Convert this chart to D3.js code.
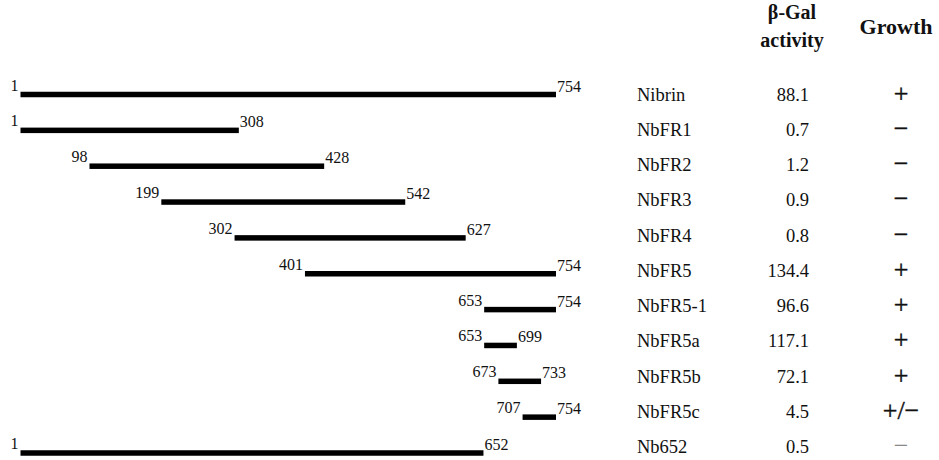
<!DOCTYPE html>
<html>
<head>
<meta charset="utf-8">
<script src="https://cdn.jsdelivr.net/npm/d3@7/dist/d3.min.js"></script>
<style>
  body { margin: 0; background: #fff; }
  svg text { font-family: "Liberation Serif", "Times New Roman", serif; fill: #111; }
</style>
</head>
<body>
<svg width="939" height="460"></svg>
<script>
// constructs, residue spans, reporter results
let names = ["Nibrin", "NbFR1", "NbFR2", "NbFR3", "NbFR4", "NbFR5", "NbFR5-1", "NbFR5a", "NbFR5b", "NbFR5c", "Nb652"];
let starts = [1, 1, 98, 199, 302, 401, 653, 653, 673, 707, 1];
let ends = [754, 308, 428, 542, 627, 754, 754, 699, 733, 754, 652];
let activity = [88.1, 0.7, 1.2, 0.9, 0.8, 134.4, 96.6, 117.1, 72.1, 4.5, 0.5];
let growth = ["+", "\u2212", "\u2212", "\u2212", "\u2212", "+", "+", "+", "+", "+/\u2212", "\u2212"];

let rows = names.map((n, i) => ({ name: n, start: starts[i], end: ends[i], act: activity[i], growth: growth[i] }));

let svg = d3.select("svg");

let x = d3.scaleLinear().domain([1, 754]).range([20.5, 556]);
let y = d3.scalePoint().domain(names).range([94.5, 453]);
// the table rows sit on a slightly tighter pitch than the bars
let ty = d3.scalePoint().domain(names).range([100.5, 453]);

let barH = 5.5;

// bars
svg.append('g')
  .attr('class', 'bars')
  .selectAll('rect')
  .data(rows)
  .enter().append('rect')
  .attr('x', d => x(d.start))
  .attr('y', d => y(d.name) - barH / 2)
  .attr('width', d => x(d.end) - x(d.start))
  .attr('height', barH)
  .attr('fill', '#000');

// residue numbers at the ends of each bar
let ends_g = svg.append('g').attr('class', 'residues').style('font-size', '16px');
ends_g.selectAll('text.s')
  .data(rows)
  .enter().append('text')
  .attr('class', 's')
  .attr('x', d => x(d.start) - 2)
  .attr('y', d => y(d.name) - 4)
  .attr('text-anchor', 'end')
  .text(d => d.start);
ends_g.selectAll('text.e')
  .data(rows)
  .enter().append('text')
  .attr('class', 'e')
  .attr('x', d => x(d.end) + 1)
  .attr('y', d => y(d.name) - 3)
  .text(d => d.end);

// table on the right
let tbl = svg.append('g').attr('class', 'table').style('font-size', '18.5px');
tbl.selectAll('text.name')
  .data(rows)
  .enter().append('text')
  .attr('class', 'name')
  .attr('x', 637)
  .attr('y', d => ty(d.name))
  .text(d => d.name);
tbl.selectAll('text.act')
  .data(rows)
  .enter().append('text')
  .attr('class', 'act')
  .attr('x', 809)
  .attr('y', d => ty(d.name))
  .attr('text-anchor', 'end')
  .text(d => d.act.toFixed(1));
tbl.selectAll('text.gr')
  .data(rows)
  .enter().append('text')
  .attr('class', 'gr')
  .attr('x', 901)
  .attr('y', d => ty(d.name) + 1)
  .attr('text-anchor', 'middle')
  .style('font-size', '26px')
  .style('fill', (d, i) => i == rows.length - 1 ? '#888' : '#111')
  .style('stroke', (d, i) => i == rows.length - 1 ? 'none' : '#111')
  .style('stroke-width', 0.4)
  .text(d => d.growth);

// column headers
let hdr = svg.append('g').attr('class', 'headers')
  .style('font-size', '20px').style('font-weight', 'bold');
hdr.append('text').attr('x', 792).attr('y', 19).attr('text-anchor', 'middle').text('\u03b2-Gal');
hdr.append('text').attr('x', 792).attr('y', 47).attr('text-anchor', 'middle').text('activity');
hdr.append('text').attr('x', 896).attr('y', 34).attr('text-anchor', 'middle')
  .style('font-size', '22px').text('Growth');
</script>
</body>
</html>
